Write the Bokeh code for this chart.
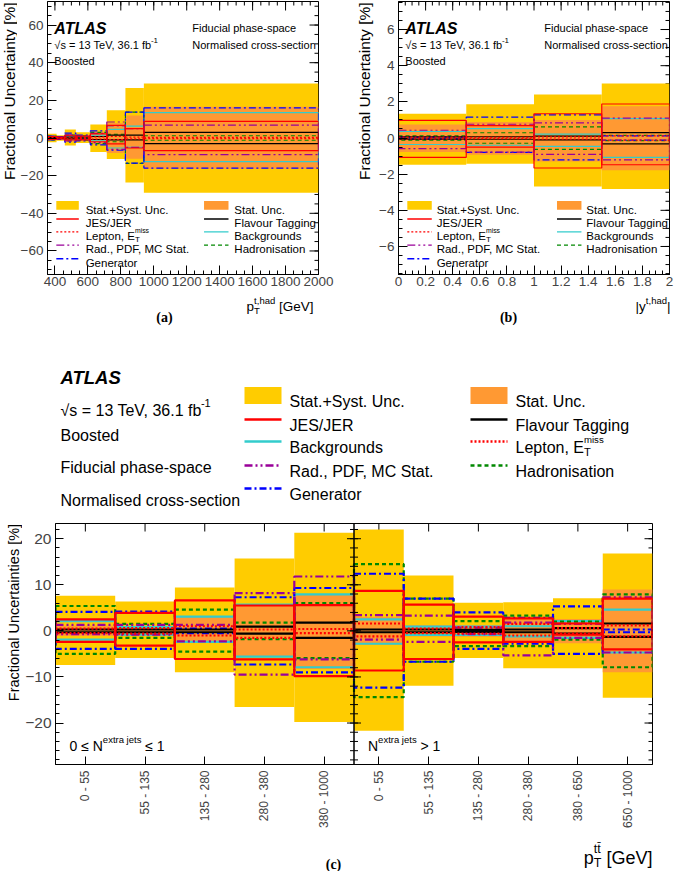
import math
from bokeh.plotting import figure
from bokeh.models import Range1d, Label, FixedTicker, Span
from bokeh.layouts import column, row
from bokeh.embed import file_html
from bokeh.resources import INLINE

# ======================= DATA (fractional uncertainties, %) =======================
# (a) pT(t,had) [GeV] bins
a_edges = [355, 410, 460, 527, 615, 715, 828, 940, 2000]
a_total_up = [2.3, 1.5, 4.5, 3.1, 7.2, 14.8, 26.5, 28.9]
a_total_dn = [-2.2, -1.4, -4.0, -2.7, -7.4, -11.1, -23.6, -29.1]
a_stat_up = [1.3, 0.9, 2.0, 1.6, 3.3, 8.0, 12.0, 16.6]
a_stat_dn = [-1.3, -0.9, -2.0, -1.6, -3.3, -8.0, -11.0, -16.4]
a_jes_up = [0.8, 0.5, 1.2, 1.0, 2.2, 6.7, 5.0, 8.8]
a_jes_dn = [-0.8, -0.5, -1.0, -1.0, -2.0, -3.1, -5.3, -6.7]
a_lep_up = [0.3, 0.2, 0.4, 0.3, 0.6, 0.8, 0.5, 0.3]
a_lep_dn = [-0.3, -0.2, -0.4, -0.3, -0.6, -0.8, -0.5, -0.3]
a_rad_up = [0.6, 0.4, 1.7, 0.8, 2.5, 8.5, 5.0, 6.8]
a_rad_dn = [-0.5, -0.4, -1.5, -0.8, -2.5, -6.0, -5.0, -8.8]
a_gen_up = [1.0, 0.7, 2.6, 1.5, 3.8, 6.5, 13.7, 16.0]
a_gen_dn = [-1.0, -0.7, -2.2, -1.5, -3.6, -6.5, -13.3, -16.0]
a_flav_up = [0.3, 0.2, 0.5, 0.4, 0.8, 1.5, 1.5, 3.0]
a_flav_dn = [-0.3, -0.2, -0.5, -0.4, -0.8, -1.0, -1.0, -3.0]
a_bkg_up = [0.5, 0.3, 0.9, 0.6, 1.5, 4.6, 6.3, 13.5]
a_bkg_dn = [-0.5, -0.3, -0.9, -0.6, -1.5, -5.3, -5.0, -12.5]
a_had_up = [1.0, 0.6, 1.5, 1.2, 3.0, 2.0, 13.7, 1.2]
a_had_dn = [-1.0, -0.6, -1.5, -1.2, -3.0, -2.0, -13.5, -1.2]

# (b) |y(t,had)| bins
b_edges = [0.0, 0.5, 1.0, 1.5, 2.0]
b_total_up = [1.34, 1.86, 2.41, 3.02]
b_total_dn = [-1.48, -1.43, -2.68, -2.82]
b_stat_up = [0.75, 0.88, 1.0, 1.75]
b_stat_dn = [-0.77, -0.92, -1.3, -1.78]
b_jes_up = [0.98, 0.68, 1.34, 1.88]
b_jes_dn = [-1.07, -0.50, -1.66, -1.48]
b_lep_up = [0.05, 0.04, 0.06, 0.12]
b_lep_dn = [-0.05, -0.04, -0.06, -0.12]
b_rad_up = [0.43, 0.76, 0.84, 1.10]
b_rad_dn = [-0.59, -0.78, -0.91, -1.21]
b_gen_up = [0.05, 1.16, 1.28, 0.12]
b_gen_dn = [-0.05, -0.80, -1.21, -0.12]
b_flav_up = [0.06, 0.07, 0.10, 0.30]
b_flav_dn = [-0.06, -0.07, -0.10, -0.32]
b_bkg_up = [0.36, 0.52, 0.21, 1.07]
b_bkg_dn = [-0.36, -0.40, -0.46, -1.07]
b_had_up = [0.12, 0.29, 0.61, 0.14]
b_had_dn = [-0.12, -0.29, -0.63, -0.14]

# (c) pT(ttbar) bins in two N(extra jets) regions (first 5: 0<=N<=1, last 6: N>1)
c_left_bins = ["0 - 55", "55 - 135", "135 - 280", "280 - 380", "380 - 1000"]
c_right_bins = ["0 - 55", "55 - 135", "135 - 280", "280 - 380", "380 - 650", "650 - 1000"]
c_total_up = [7.6, 6.4, 9.4, 15.7, 21.3, 22.0, 12.0, 6.1, 6.2, 7.1, 16.8]
c_total_dn = [-7.4, -5.9, -9.0, -16.5, -19.8, -21.7, -11.9, -5.9, -8.1, -8.1, -14.5]
c_stat_up = [1.1, 1.1, 3.0, 5.5, 7.8, 3.0, 1.2, 1.3, 2.5, 2.6, 9.0]
c_stat_dn = [-1.1, -1.1, -2.5, -5.6, -8.3, -3.0, -1.2, -1.3, -2.5, -2.7, -9.0]
c_jes_up = [2.5, 3.9, 6.6, 5.5, 5.6, 8.7, 5.7, 3.1, 2.7, 1.6, 7.0]
c_jes_dn = [-2.4, -3.2, -6.1, -6.2, -9.8, -8.6, -6.1, -2.5, -2.4, -0.8, -4.0]
c_lep_up = [0.5, 0.6, 1.0, 0.3, 0.4, 1.6, 0.5, 0.8, 1.5, 0.6, 1.2]
c_lep_dn = [-0.5, -0.6, -1.0, -1.5, -0.5, -1.2, -0.5, -0.6, -1.0, -0.6, -1.2]
c_rad_up = [1.3, 1.3, 1.3, 8.2, 11.8, 3.4, 3.3, 0.7, 1.8, 1.5, 7.3]
c_rad_dn = [-0.7, -0.8, -2.3, -9.5, -6.2, -1.9, -2.4, -0.7, -5.3, -1.5, -4.7]
c_gen_up = [4.1, 4.2, 0.5, 7.3, 9.3, 12.4, 7.0, 4.0, 2.8, 5.3, 0.3]
c_gen_dn = [-3.9, -3.9, -0.5, -7.3, -9.0, -12.3, -6.7, -3.9, -2.8, -5.0, -0.3]
c_flav_up = [0.3, 0.3, 0.3, 0.9, 1.8, 0.3, 0.3, 0.2, 0.3, 0.6, 1.6]
c_flav_dn = [-0.3, -0.3, -0.3, -0.6, -1.5, -0.3, -0.3, -0.2, -0.3, -0.6, -1.3]
c_bkg_up = [2.1, 0.8, 3.1, 5.7, 7.9, 2.5, 0.9, 0.9, 1.0, 2.1, 4.6]
c_bkg_dn = [-1.9, -0.8, -2.4, -5.6, -7.9, -2.8, -0.9, -0.9, -1.2, -1.5, -4.7]
c_had_up = [5.4, 1.5, 4.6, 1.8, 6.0, 14.5, 7.0, 2.1, 3.3, 2.0, 7.9]
c_had_dn = [-5.0, -1.5, -4.5, -1.8, -5.9, -14.4, -6.7, -3.3, -3.3, -1.9, -7.9]

# tick values
a_xticks = [400, 600, 800, 1000, 1200, 1400, 1600, 1800, 2000]
a_yticks = [-60, -40, -20, 0, 20, 40, 60]
b_xticks = [0, 0.2, 0.4, 0.6, 0.8, 1.0, 1.2, 1.4, 1.6, 1.8, 2.0]
b_yticks = [-6, -4, -2, 0, 2, 4, 6]
c_yticks = [-20, -10, 0, 10, 20]

# ======================= STYLE =======================
FONT = "Liberation Sans"
SERIF = "Liberation Serif"
YELLOW = "#ffcc00"
ORANGE = "#ff9933"
STYLES = {
    "jes": ("#ff0000", "solid"),
    "lep": ("#ff0000", "2 2"),
    "rad": ("#990099", "8 3 2 3 2 3"),
    "gen": ("#0000ff", "7 3 2 3"),
    "flav": ("#000000", "solid"),
    "bkg": ("#33cccc", "solid"),
    "had": ("#008800", "4 3"),
}
DRAW_ORDER = ["bkg", "had", "gen", "rad", "flav", "lep", "jes"]
NB = "\u00a0"

AW = {' ': 278, NB: 278, '!': 278, '%': 889, '(': 333, ')': 333, '+': 584, ',': 278,
      '-': 333, '.': 278, '/': 278, ':': 278, '=': 584, '[': 278, ']': 278, '|': 260,
      '≤': 549, '√': 300, '>': 584, '\u2212': 584, '\u0304': 0,
      'A': 667, 'B': 667, 'C': 722, 'D': 722, 'E': 667, 'F': 611, 'G': 778, 'H': 722,
      'I': 278, 'J': 500, 'K': 667, 'L': 556, 'M': 833, 'N': 722, 'O': 778, 'P': 667,
      'Q': 778, 'R': 722, 'S': 667, 'T': 611, 'U': 722, 'V': 667, 'W': 944, 'X': 667,
      'Y': 667, 'Z': 611, 'a': 556, 'b': 556, 'c': 500, 'd': 556, 'e': 556, 'f': 278,
      'g': 556, 'h': 556, 'i': 222, 'j': 222, 'k': 500, 'l': 222, 'm': 833, 'n': 556,
      'o': 556, 'p': 556, 'q': 556, 'r': 333, 's': 500, 't': 278, 'u': 556, 'v': 500,
      'w': 722, 'x': 500, 'y': 500, 'z': 500}


def tw(s, size):
    return sum(AW.get(c, 556) for c in s) / 1000.0 * size


def lab(p, x, y, text, size, xo=0.0, yo=0.0, align="left", baseline="alphabetic",
        style="normal", font=FONT, angle=0.0):
    p.add_layout(Label(x=x, y=y, x_offset=xo, y_offset=yo, text=text, text_font=font,
                       text_font_size=f"{size}px", text_font_style=style,
                       text_align=align, text_baseline=baseline, angle=angle,
                       text_color="black"))


def rich(p, x, y, parts, xo=0.0, yo=0.0, align="left"):
    def width(part):
        items = part if isinstance(part, list) else [part]
        return max(tw(t, s) for t, s, r in items)
    total = sum(width(q) for q in parts)
    cur = xo - {"left": 0.0, "center": total / 2.0, "right": total}[align]
    for part in parts:
        items = part if isinstance(part, list) else [part]
        for t, s, r in items:
            lab(p, x, y, t, s, xo=cur, yo=yo + r)
        cur += width(part)


def fmt(v):
    return f"{v:g}".replace("-", "\u2212")


def canvas(w, h):
    """A blank drawing area whose data coordinates are pixels (y downwards)."""
    c = figure(x_range=Range1d(0, w), y_range=Range1d(h, 0), width=w, height=h,
               min_border_left=0, min_border_right=0, min_border_top=0,
               min_border_bottom=0, x_axis_type=None, y_axis_type=None,
               output_backend="svg", toolbar_location=None)
    c.outline_line_color = None
    c.background_fill_color = "white"
    c.border_fill_color = "white"
    return c


def make_frame(xr, yr, fw, fh, bl, br, bt, bb):
    p = figure(x_range=Range1d(*xr), y_range=Range1d(*yr), frame_width=fw, frame_height=fh,
               min_border_left=bl, min_border_right=br, min_border_top=bt,
               min_border_bottom=bb, output_backend="svg", toolbar_location=None)
    p.grid.visible = False
    p.outline_line_color = "black"
    p.outline_line_width = 1
    p.background_fill_color = "white"
    p.border_fill_color = "white"
    return p


def style_axis(ax, fs, tin, minor_in, standoff):
    ax.major_tick_in = tin
    ax.major_tick_out = 0
    ax.minor_tick_in = minor_in
    ax.minor_tick_out = 0
    ax.major_label_text_font = FONT
    ax.major_label_text_font_size = f"{fs}px"
    ax.major_label_standoff = standoff
    ax.axis_line_color = "black"
    ax.major_tick_line_color = "black"
    ax.minor_tick_line_color = "black"


def setup_axes(p, xr, yr, fw, fh, xticks, xminor, xlabels, yticks, yminor, ylabels, fs,
               tin=9, minor_in=4, xstand=3, ystand=4, xorient=None, xlfs=None):
    xt = FixedTicker(ticks=xticks, minor_ticks=xminor)
    yt = FixedTicker(ticks=yticks, minor_ticks=yminor)
    for ax in p.xaxis:
        ax.ticker = xt
        style_axis(ax, xlfs or fs, tin, minor_in, xstand)
        ax.major_label_overrides = dict(zip(xticks, xlabels))
        if xorient is not None:
            ax.major_label_orientation = xorient
    for ax in p.yaxis:
        ax.ticker = yt
        style_axis(ax, fs, tin, minor_in, ystand)
        ax.major_label_overrides = dict(zip(yticks, ylabels))
    # mirrored tick marks on the top and right frame edges
    dxp = (xr[1] - xr[0]) / fw
    dyp = (yr[1] - yr[0]) / fh
    for vals, ln in ((yticks, tin), ([v for v in yminor if yr[0] < v < yr[1]], minor_in)):
        if vals and ln:
            p.segment(x0=[xr[1]] * len(vals), y0=vals, x1=[xr[1] - ln * dxp] * len(vals),
                      y1=vals, line_color="black", line_width=1)
    for vals, ln in ((xticks, tin), ([v for v in xminor if xr[0] < v < xr[1]], minor_in)):
        if vals and ln:
            p.segment(x0=vals, y0=[yr[1]] * len(vals), x1=vals,
                      y1=[yr[1] - ln * dyp] * len(vals), line_color="black", line_width=1)


def draw_hists(p, edges, tot, stat, comps, lw):
    lefts, rights = edges[:-1], edges[1:]
    p.quad(left=lefts, right=rights, top=tot[0], bottom=tot[1], fill_color=YELLOW,
           line_color=None)
    p.quad(left=lefts, right=rights, top=stat[0], bottom=stat[1], fill_color=ORANGE,
           line_color=None)
    for key in DRAW_ORDER:
        up, dn = comps[key]
        col, dash = STYLES[key]
        p.quad(left=lefts, right=rights, top=up, bottom=dn, fill_color=None,
               line_color=col, line_width=lw, line_dash=dash)


def lepton_parts(s):
    return [("Lepton, E", s, 0), [("T", 0.7 * s, -0.32 * s), ("miss", 0.6 * s, 0.48 * s)]]


# ======================= PANELS (a) and (b) =======================
# page is drawn with an 8px margin: total layout 669 x 869
FW, FH = 271, 273
TOP_B, BOT_B = 1, 18
FIG_H = TOP_B + FH + BOT_B          # 292
STRIP_H = 336 - FIG_H               # 44
SX, SY = FW / 277.0, FH / 282.0
INFS = 11.0
LGFS = 11.5


def top_panel(edges, xr, yr, bl, br, tot, stat, comps, xticks, xminor, yticks, yminor,
              sw1, sw2, tx2):
    p = make_frame(xr, yr, FW, FH, bl, br, TOP_B, BOT_B)
    setup_axes(p, xr, yr, FW, FH, xticks, xminor, [fmt(v) for v in xticks], yticks, yminor,
               [fmt(v) for v in yticks], 13.5, xstand=2)
    draw_hists(p, edges, tot, stat, comps, 1.2)
    x0, x1 = xr
    y0, y1 = yr

    def pxd(dx, dy):
        return (x0 + dx * SX / FW * (x1 - x0), y1 - dy * SY / FH * (y1 - y0))

    def txt(dx, dyc, parts, size, style="normal"):
        if isinstance(parts, str):
            lab(p, x0, y1, parts, size, xo=dx * SX, yo=-(dyc * SY + 0.36 * size), style=style)
        else:
            rich(p, x0, y1, parts, xo=dx * SX, yo=-(dyc * SY + 0.36 * size))

    txt(7, 22, "ATLAS", 16, style="bold italic")
    txt(7, 41, [("√s = 13 TeV, 36.1 fb", INFS, 0), ("-1", 8, 5)], INFS)
    txt(7, 57, "Boosted", INFS)
    txt(tx2, 23, "Fiducial phase-space", INFS)
    txt(tx2, 41, "Normalised cross-section", INFS)

    rows = [210.7, 224.7, 238, 251.7, 265.7]
    col1 = [("band", YELLOW, "Stat.+Syst. Unc."), ("line", "jes", "JES/JER"),
            ("line", "lep", None), ("line", "rad", "Rad., PDF, MC Stat."),
            ("line", "gen", "Generator")]
    col2 = [("band", ORANGE, "Stat. Unc."), ("line", "flav", "Flavour Tagging"),
            ("line", "bkg", "Backgrounds"), ("line", "had", "Hadronisation")]
    for (s0, s1, tx), entries in ((sw1, col1), (sw2, col2)):
        for yc_, (kind, what, text) in zip(rows, entries):
            xa, yt_ = pxd(s0, yc_ - 4.5)
            xb, yb_ = pxd(s1, yc_ + 4.5)
            _, ym = pxd(s0, yc_)
            if kind == "band":
                p.quad(left=[xa], right=[xb], top=[yt_], bottom=[yb_], fill_color=what,
                       line_color=None)
            else:
                col, dash = STYLES[what]
                p.line(x=[xa, xb], y=[ym, ym], line_color=col, line_width=1.4, line_dash=dash)
            if text is None:
                txt(tx, yc_, lepton_parts(LGFS), LGFS)
            else:
                txt(tx, yc_, text, LGFS)
    return p


a_comps = {"jes": (a_jes_up, a_jes_dn), "lep": (a_lep_up, a_lep_dn), "rad": (a_rad_up, a_rad_dn),
           "gen": (a_gen_up, a_gen_dn), "flav": (a_flav_up, a_flav_dn),
           "bkg": (a_bkg_up, a_bkg_dn), "had": (a_had_up, a_had_dn)}
b_comps = {"jes": (b_jes_up, b_jes_dn), "lep": (b_lep_up, b_lep_dn), "rad": (b_rad_up, b_rad_dn),
           "gen": (b_gen_up, b_gen_dn), "flav": (b_flav_up, b_flav_dn),
           "bkg": (b_bkg_up, b_bkg_dn), "had": (b_had_up, b_had_dn)}

a_xminor = list(range(350, 2001, 50))
a_yminor = list(range(-70, 71, 5))
b_xminor = [round(i * 0.05, 2) for i in range(41)]
b_yminor = [round(-7.5 + i * 0.5, 1) for i in range(31)]

YA_W, YB_W = 17, 36
pa = top_panel(a_edges, (355, 2000), (-72.5, 72.5), 41 - YA_W, 21,
               (a_total_up, a_total_dn), (a_stat_up, a_stat_dn), a_comps,
               a_xticks, a_xminor, a_yticks, a_yminor, (9, 32, 39), (160, 185, 191), 148)
pb = top_panel(b_edges, (0.0, 2.0), (-7.55, 7.55), 59 - YB_W, 6,
               (b_total_up, b_total_dn), (b_stat_up, b_stat_dn), b_comps,
               b_xticks, b_xminor, b_yticks, b_yminor, (9, 34, 39), (162, 187, 192), 149)

# y-axis titles (left of the frames)
ya = canvas(YA_W, FIG_H)
lab(ya, 0.5, TOP_B, "Fractional Uncertainty [%]", 15.5, align="right", baseline="top",
    angle=math.pi / 2)
yb = canvas(YB_W, FIG_H)
lab(yb, 16, TOP_B, "Fractional Uncertainty [%]", 15.5, align="right", baseline="top",
    angle=math.pi / 2)

# x-axis titles and sub-figure tags (below the frames)
sa = canvas(333, STRIP_H)
rich(sa, 313, 14, [("p", 13.5, 0), [("T", 9.5, -4), ("t,had", 9.5, 6)],
                   (NB + "[GeV]", 13.5, 0)], align="right")
lab(sa, 164, 25, "(a)", 14, align="center", baseline="middle", style="bold", font=SERIF)
sb = canvas(336, STRIP_H)
rich(sb, 331, 14, [("|y", 13.5, 0), ("t,had", 9.5, 6), ("|", 13.5, 0)], align="right")
lab(sb, 169, 25, "(b)", 14, align="center", baseline="middle", style="bold", font=SERIF)

# ======================= PANEL (c) header =======================
HW, HH = 669, 187
ph = canvas(HW, HH)
lab(ph, 60, 40.7, "ATLAS", 18.5, style="bold italic")
rich(ph, 60, 73.8, [("√s = 13 TeV, 36.1 fb", 16, 0), ("-1", 11, 7)])
lab(ph, 60, 98.8, "Boosted", 16)
lab(ph, 60, 130.8, "Fiducial phase-space", 16)
lab(ph, 60, 163.8, "Normalised cross-section", 16)

h_rows = [59, 83, 105, 129, 152]
h_col1 = [("band", YELLOW, "Stat.+Syst. Unc."), ("line", "jes", "JES/JER"),
          ("line", "bkg", "Backgrounds"), ("line", "rad", "Rad., PDF, MC Stat."),
          ("line", "gen", "Generator")]
h_col2 = [("band", ORANGE, "Stat. Unc."), ("line", "flav", "Flavour Tagging"),
          ("line", "lep", None), ("line", "had", "Hadronisation")]
for (s0, s1, tx), entries in (((244, 281, 289), h_col1), ((470, 507, 515), h_col2)):
    for yc_, (kind, what, text) in zip(h_rows, entries):
        if kind == "band":
            ph.quad(left=[s0], right=[s1], top=[yc_ - 8.5], bottom=[yc_ + 8.5],
                    fill_color=what, line_color=None)
        else:
            col, dash = STYLES[what]
            ph.line(x=[s0, s1], y=[yc_, yc_], line_color=col, line_width=2.5, line_dash=dash)
        if text is None:
            rich(ph, tx, yc_ + 5.8, lepton_parts(16))
        else:
            lab(ph, tx, yc_ + 5.8, text, 16)

# ======================= PANEL (c) plot =======================
C_LEFT_W, C_RIGHT_W = 1.2, 1.0
c_widths = [C_LEFT_W] * len(c_left_bins) + [C_RIGHT_W] * len(c_right_bins)
c_edges = [0.0]
for w in c_widths:
    c_edges.append(round(c_edges[-1] + w, 6))
c_centers = [round((a + b) / 2.0, 6) for a, b in zip(c_edges[:-1], c_edges[1:])]
c_labels = c_left_bins + c_right_bins
c_split = c_edges[len(c_left_bins)]

YC_W = 22
CFW, CFH, C_BOT = 597, 241, 64
cxr = (0.0, c_edges[-1])
cyr = (-29.0, 23.3)
pc = make_frame(cxr, cyr, CFW, CFH, 54 - YC_W, 18, 0, C_BOT)
c_yminor = list(range(-28, 23, 2))
setup_axes(pc, cxr, cyr, CFW, CFH, c_centers, [], c_labels, c_yticks, c_yminor,
           [fmt(v) for v in c_yticks], 15.5, tin=8, minor_in=4, xstand=6, ystand=4,
           xorient=math.pi / 2, xlfs=12)
c_comps = {"jes": (c_jes_up, c_jes_dn), "lep": (c_lep_up, c_lep_dn), "rad": (c_rad_up, c_rad_dn),
           "gen": (c_gen_up, c_gen_dn), "flav": (c_flav_up, c_flav_dn),
           "bkg": (c_bkg_up, c_bkg_dn), "had": (c_had_up, c_had_dn)}
draw_hists(pc, c_edges, (c_total_up, c_total_dn), (c_stat_up, c_stat_dn), c_comps, 2.2)
pc.add_layout(Span(location=c_split, dimension="height", line_color="black", line_width=1.5))
# tick marks on both sides of the region divider
_dxp = (cxr[1] - cxr[0]) / CFW
_cmin = [v for v in c_yminor if cyr[0] < v < cyr[1]]
pc.segment(x0=[c_split - 7 * _dxp] * len(c_yticks), y0=c_yticks,
           x1=[c_split + 7 * _dxp] * len(c_yticks), y1=c_yticks, line_color="black")
pc.segment(x0=[c_split - 4 * _dxp] * len(_cmin), y0=_cmin,
           x1=[c_split + 4 * _dxp] * len(_cmin), y1=_cmin, line_color="black")

rich(pc, 0.0, cyr[0], [("0 ≤ N", 14, 0), ("extra jets", 9.5, 7), (NB + "≤ 1", 14, 0)],
     xo=14, yo=18.5)
rich(pc, c_split, cyr[0], [("N", 14, 0), ("extra jets", 9.5, 7), (NB + "> 1", 14, 0)],
     xo=14, yo=18.5)

yc = canvas(YC_W, CFH + C_BOT)
lab(yc, 5, 0.5, "Fractional Uncertainties [%]", 14.5, align="right", baseline="top",
    angle=math.pi / 2)

SC_H = 869 - 336 - HH - (CFH + C_BOT)     # 41
sc = canvas(669, SC_H)
rich(sc, 652, 27,
     [("p", 18, 0), [("T", 12.5, -5.5), ("tt\u0304", 12.5, 9)], (NB + "[GeV]", 18, 0)],
     align="right")
lab(sc, 333, 34, "(c)", 14, align="center", baseline="middle", style="bold", font=SERIF)

layout = column(
    row(column(row(ya, pa), sa), column(row(yb, pb), sb)),
    ph,
    row(yc, pc),
    sc,
)
open("out.html", "w").write(file_html(layout, INLINE))
